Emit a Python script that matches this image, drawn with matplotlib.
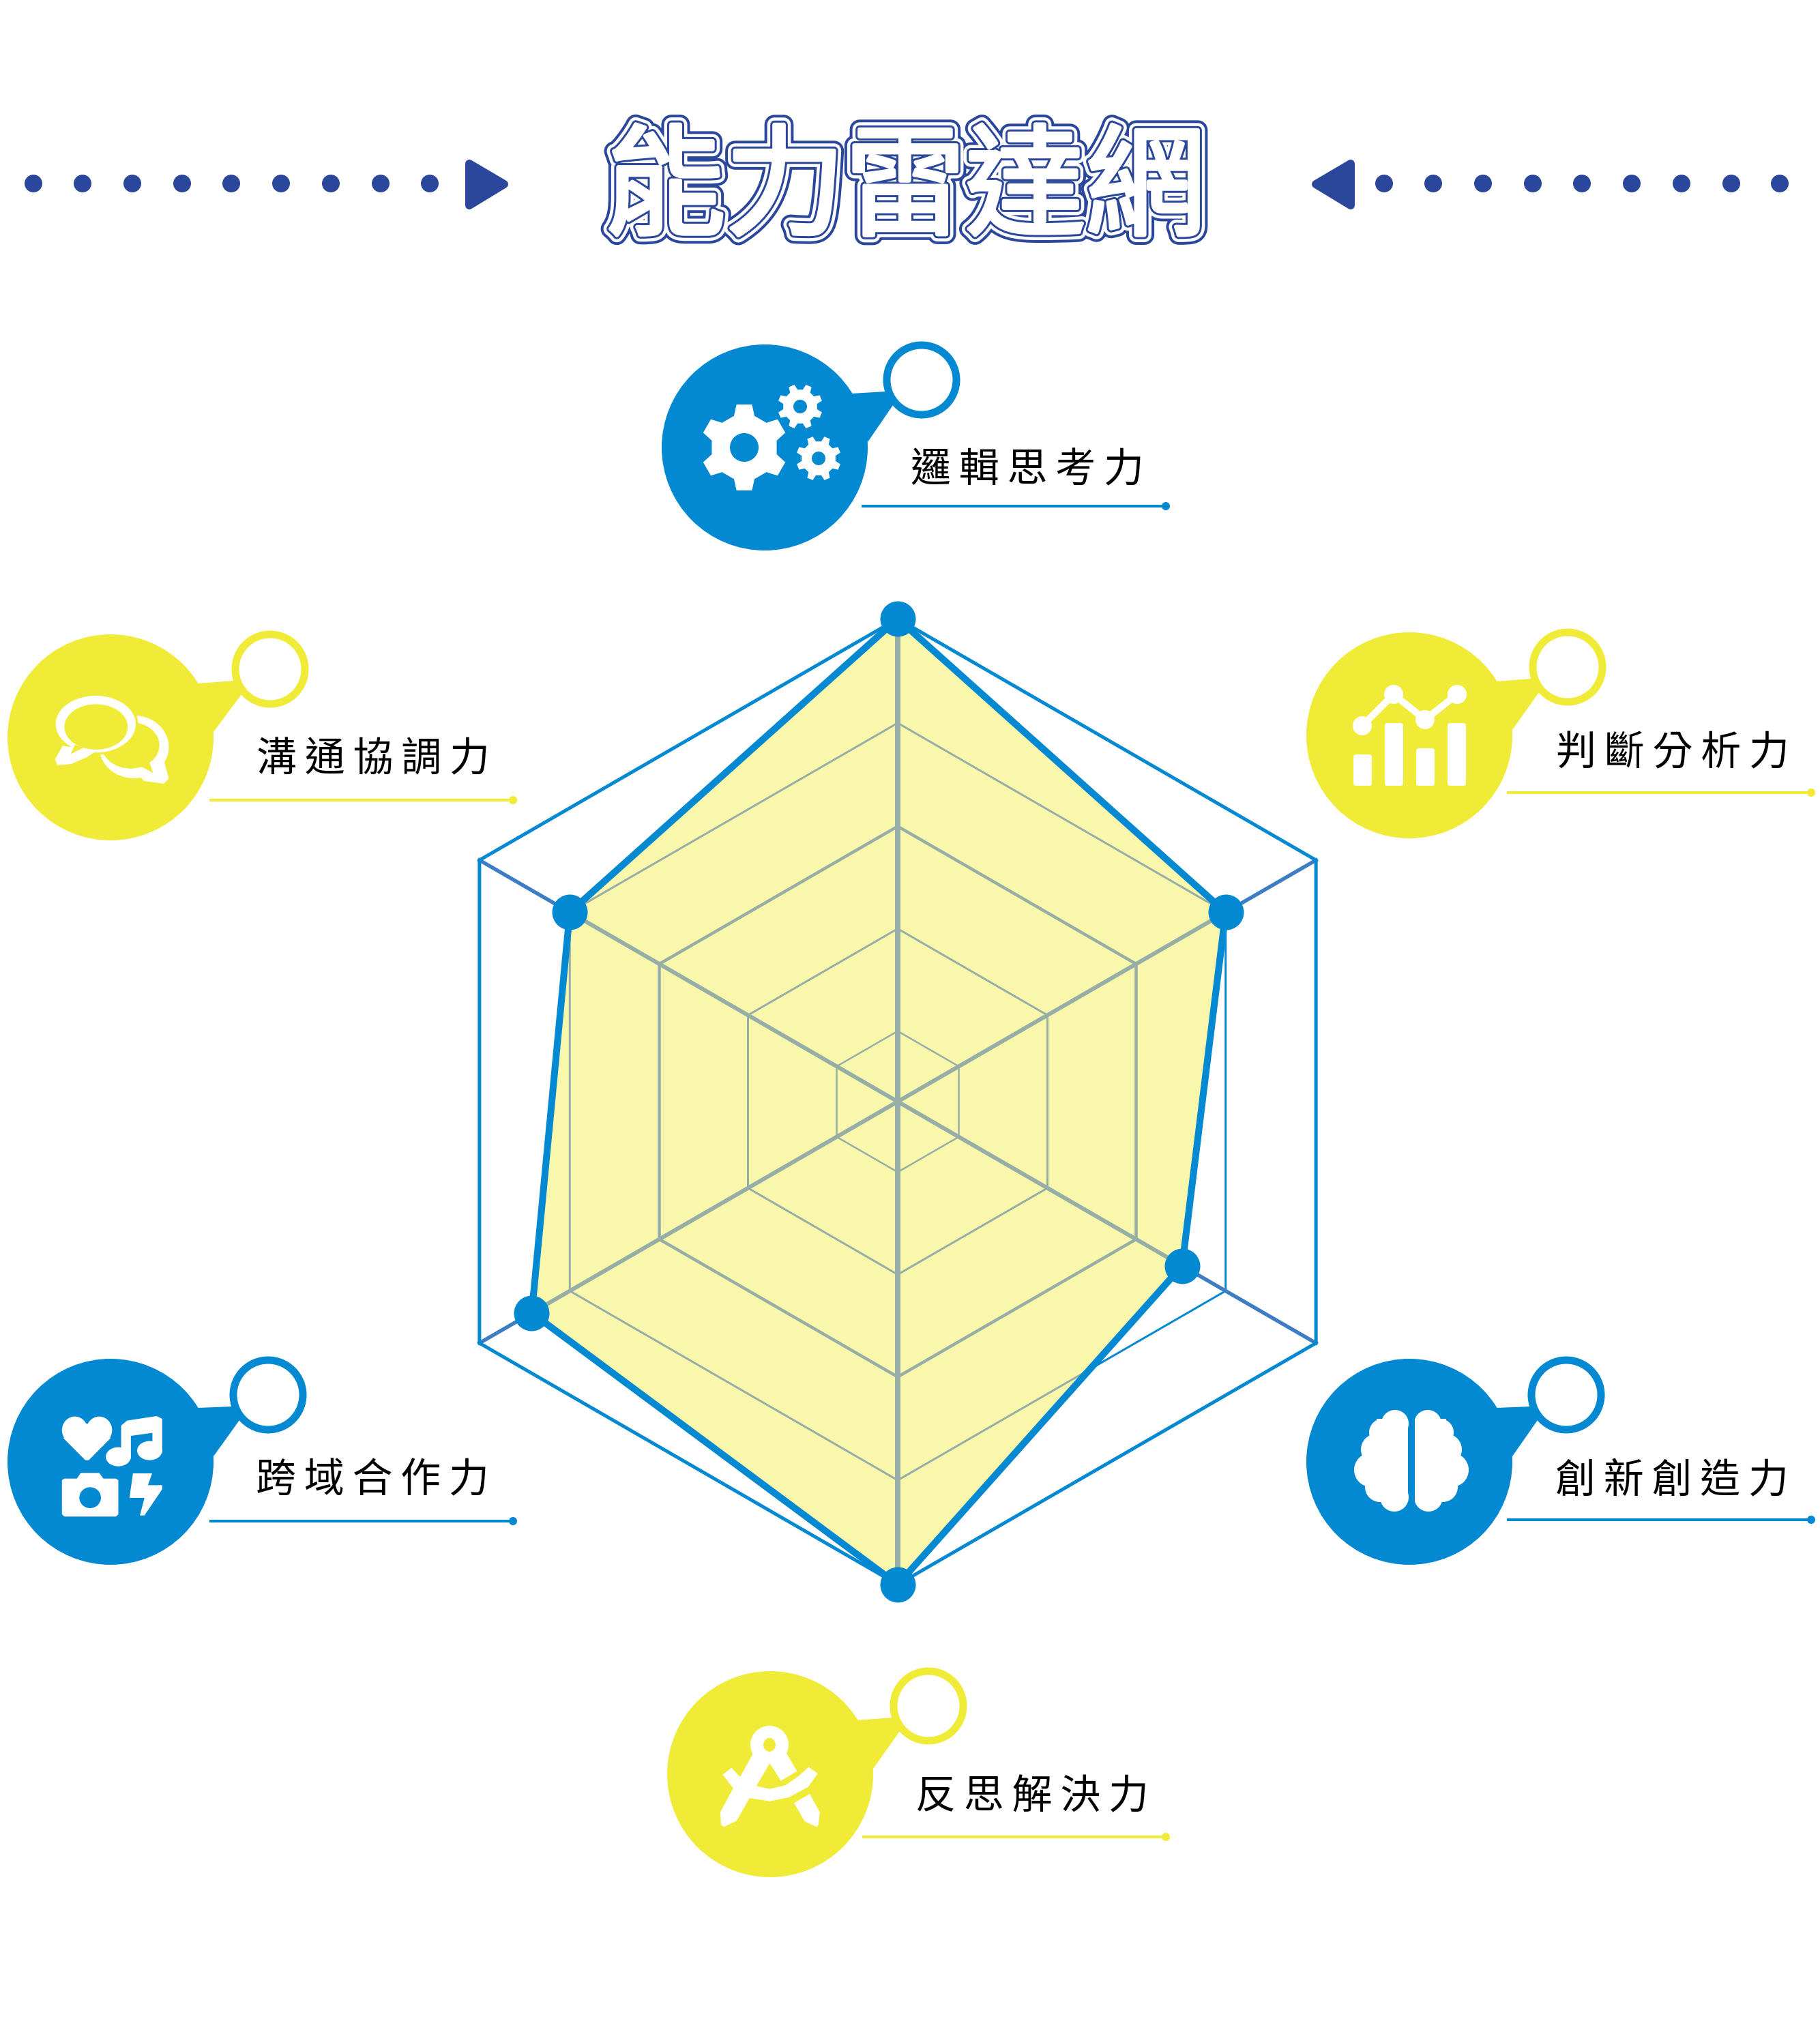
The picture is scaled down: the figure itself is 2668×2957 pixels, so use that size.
import numpy as np
import matplotlib
matplotlib.use('Agg')
import matplotlib.pyplot as plt
import matplotlib.patheffects as pe
from matplotlib.patches import Circle, Ellipse, Polygon, FancyBboxPatch

W, H = 2668, 2957
DPI = 100

BLUE = '#0388D2'
YELLOW = '#F0EB37'
FILL = '#F8F7AC'
NAVY = '#2B479B'
GREY = '#96AEA6'
SPOKE = '#3C7DC4'

plt.rcParams['font.family'] = ['Noto Sans CJK TC', 'DejaVu Sans']

# radar values, clockwise from the top
skills = ['邏輯思考力', '判斷分析力', '創新創造力', '反思解決力', '跨域合作力', '溝通協調力']
values = [100, 78.4, 68, 100, 87.5, 78.4]
rings = [14.6, 35.8, 57, 78.4]
ring_px = [2.5, 3, 4.5, 3]
r_max = 100
title = '能力雷達網'

# big circle centre, ring centre, text centre, underline y, underline x0, x1
circle_xy = [(1121, 656), (2066, 1078), (2066, 2143), (1129, 2601), (162, 2143), (162, 1081)]
ring_xy = [(1351, 557), (2298, 978), (2296, 2045), (1361, 2501), (393, 2045), (396, 981)]
label_xy = [(1506, 690), (2452, 1105), (2451, 2171), (1513, 2635), (546, 2171), (547, 1114)]
line_y = [742, 1162, 2228, 2693, 2230, 1173]
line_x = [(1263, 1711), (2209, 2657), (2209, 2657), (1264, 1711), (307, 754), (307, 754)]
colors = [BLUE, YELLOW, BLUE, YELLOW, BLUE, YELLOW]


def pt(px):
    return px * 72 / DPI


fig = plt.figure(figsize=(W / DPI, H / DPI), dpi=DPI, facecolor='white')
ax = fig.add_axes([0, 0, 1, 1])
ax.set_xlim(0, W)
ax.set_ylim(H, 0)
ax.axis('off')


def zpts(pts, x0, y0, sx, sy):
    return [(x0 + x / sx, y0 + y / sy) for x, y in pts]


def poly(pts, color, z=5):
    ax.add_patch(Polygon(pts, closed=True, fc=color, ec='none', zorder=z))


def ell(x, y, rx, ry, color, z=5):
    ax.add_patch(Ellipse((x, y), 2 * rx, 2 * ry, fc=color, ec='none', zorder=z))


def gear(cx, cy, r, hole, teeth, color, start=90):
    pts = []
    step = 360 / teeth
    for i in range(teeth):
        a = start + i * step
        for da, rr in [(-0.30, 0.76), (-0.17, 1.0), (0.17, 1.0), (0.30, 0.76)]:
            t = np.deg2rad(a + da * step)
            pts.append((cx + r * rr * np.cos(t), cy + r * rr * np.sin(t)))
    poly(pts, 'white', 5)
    ax.add_patch(Circle((cx, cy), hole, fc=color, ec='none', zorder=6))


def icon_gears(cx, cy, color):
    gear(cx - 30, cy, 64, 21, 6, color)
    gear(cx + 52, cy - 60, 33, 10, 8, color, 67.5)
    gear(cx + 79, cy + 16, 33, 10, 8, color, 67.5)


def icon_chart(cx, cy, color):
    # read relative to the circle at (2066, 1078)
    dx, dy = cx - 2066, cy - 1078
    for x0, x1, top in [(1984, 2011, 1106), (2030, 2057, 1060), (2076, 2103, 1097), (2122, 2149, 1060)]:
        ax.add_patch(FancyBboxPatch((x0 + dx + 3, top + dy + 3), x1 - x0 - 6, 1152 - top - 6,
                                    boxstyle='round,pad=3,rounding_size=4', fc='white', ec='none', zorder=5))
    lx = np.array([1997, 2043, 2089, 2136]) + dx
    ly = np.array([1064, 1018, 1055, 1018]) + dy
    ax.plot(lx, ly, color='white', lw=pt(10), zorder=5)
    for x, y in zip(lx, ly):
        ax.add_patch(Circle((x, y), 14, fc='white', ec='none', zorder=5))


def icon_brain(cx, cy, color):
    mid = cx + 3
    lobes = [(-24, -56, 20), (-42, -43, 20), (-51, -18, 23), (-59, 12, 25), (-46, 37, 22), (-25, 52, 21)]
    for side in (1, -1):
        for lx, ly, r in lobes:
            ax.add_patch(Circle((mid + side * lx, cy + ly), r, fc='white', ec='none', zorder=5))
        x0, x1 = sorted([mid + side * 5, mid + side * 51])
        ax.add_patch(FancyBboxPatch((x0, cy - 63), x1 - x0, 120, boxstyle='square,pad=0',
                                    fc='white', ec='none', zorder=5))
    # gap between the halves
    ax.plot([mid, mid], [cy - 85, cy + 80], color=color, lw=pt(9), zorder=6)


def icon_compass(cx, cy, color):
    x0, y0 = cx - 169, cy - 171
    z = lambda p: zpts(p, x0, y0, 1.96, 3)
    ell(cx - 1, cy - 43, 28, 28, 'white')
    poly(z([(283, 420), (245, 525), (225, 575), (188, 680), (190, 735), (198, 745), (235, 718), (272, 618),
            (292, 565), (330, 465), (362, 542), (408, 500), (380, 425), (330, 390)]), 'white')
    poly(z([(195, 515), (220, 485), (245, 525), (292, 565), (330, 578), (375, 562), (410, 525), (442, 482),
            (468, 510), (440, 570), (385, 615), (330, 632), (272, 618), (225, 575)]), 'white')
    poly(z([(445, 600), (400, 640), (430, 720), (465, 745), (470, 735), (474, 680)]), 'white')
    ell(cx - 1, cy - 43, 9, 10, color, 6)


def icon_media(cx, cy, color):
    x0, y0 = cx - 162, cy - 173
    sx, sy = 1.96, 3
    z = lambda p: zpts(p, x0, y0, sx, sy)
    ze = lambda x, y, rx, ry, c, zo=5: ell(x0 + x / sx, y0 + y / sy, rx / sx, ry / sy, c, zo)
    # heart
    ze(215, 380, 37, 60, 'white')
    ze(285, 380, 37, 60, 'white')
    poly(z([(182, 415), (245, 512), (255, 512), (318, 415), (250, 350)]), 'white')
    # note
    poly(z([(348, 360), (365, 338), (450, 318), (466, 330), (466, 480), (438, 480), (438, 392), (376, 405),
            (376, 505), (348, 505)]), 'white')
    ze(340, 497, 36, 42, 'white')
    ze(430, 470, 36, 42, 'white')
    # camera
    poly(z([(178, 600), (185, 593), (333, 593), (340, 600), (340, 750), (333, 760), (185, 760), (178, 750)]), 'white')
    poly(z([(220, 595), (232, 568), (285, 568), (298, 595)]), 'white')
    ze(259, 677, 31, 46, color, 6)
    # bolt
    poly(z([(382, 570), (437, 570), (425, 622), (466, 622), (466, 640), (415, 755), (402, 755), (415, 678),
            (372, 678)]), 'white')


def icon_bubbles(cx, cy, color):
    x0, y0 = cx - 162, cy - 181
    sx, sy = 1.96, 3
    z = lambda p: zpts(p, x0, y0, sx, sy)
    ze = lambda x, y, rx, ry, c, zo=5: ell(x0 + x / sx, y0 + y / sy, rx / sx, ry / sy, c, zo)
    # back bubble
    ze(385, 585, 100, 138, 'white', 5)
    poly(z([(470, 640), (485, 725), (470, 747), (415, 735), (390, 700)]), 'white', 5)
    ze(375, 578, 83, 102, color, 5.2)
    poly(z([(430, 655), (440, 700), (410, 675), (380, 660)]), color, 5.2)
    # front bubble, with a gap under it
    ze(275, 485, 122, 135, color, 5.4)
    ze(275, 485, 115, 125, 'white', 5.5)
    poly(z([(180, 580), (158, 640), (165, 665), (205, 660), (250, 630), (280, 600)]), 'white', 5.5)
    ze(276, 497, 91, 100, color, 5.6)
    poly(z([(215, 575), (203, 617), (240, 588)]), color, 5.6)


icons = [icon_gears, icon_chart, icon_brain, icon_compass, icon_media, icon_bubbles]

# title row: dots and arrows
dots_left = [49, 121, 194, 267, 339, 412, 485, 558, 630]
dots_right = [2029, 2101, 2174, 2247, 2319, 2392, 2465, 2538, 2609]
for x in dots_left + dots_right:
    ax.add_patch(Circle((x, 269), 13, fc=NAVY, ec='none'))
ax.add_patch(Polygon([(688, 240), (688, 301), (739, 270)], closed=True, fc=NAVY, ec=NAVY,
                     lw=pt(12), joinstyle='round'))
ax.add_patch(Polygon([(1980, 240), (1980, 301), (1929, 270)], closed=True, fc=NAVY, ec=NAVY,
                     lw=pt(12), joinstyle='round'))

# title outline is built up from strokes
ax.text(1327, 280, title, fontsize=pt(176), fontweight='medium', color='white', ha='center', va='center', zorder=8,
        path_effects=[pe.withStroke(linewidth=pt(29), foreground=NAVY),
                      pe.withStroke(linewidth=pt(21), foreground='white'),
                      pe.withStroke(linewidth=pt(12), foreground=NAVY),
                      pe.withStroke(linewidth=pt(6), foreground='white')])

# the six skill badges
for i, name in enumerate(skills):
    c = colors[i]
    cx, cy = circle_xy[i]
    rx, ry = ring_xy[i]
    poly([(cx + 127, cy - 79), (rx - 53, ry + 17), (rx - 42, ry + 37), (cx + 151, cy - 8)], c, 3)
    ax.add_patch(Circle((cx, cy), 151, fc=c, ec='none', zorder=3))
    ax.add_patch(Circle((rx, ry), 51, fc='white', ec=c, lw=pt(11), zorder=4))
    icons[i](cx, cy, c)
    ax.text(label_xy[i][0], label_xy[i][1], '\u2009'.join(name), fontsize=pt(59), color='black',
            fontweight='medium', ha='center', va='center', zorder=5)
    ax.plot(line_x[i], [line_y[i], line_y[i]], color=c, lw=pt(4), solid_capstyle='butt', zorder=3)
    ax.add_patch(Circle((line_x[i][1] - 2, line_y[i]), 6, fc=c, ec='none', zorder=3))

# radar, in polar axes centred on (1316, 1615)
margin = 1.1
R = 708
radar = fig.add_axes([(1316 - R * margin) / W, 1 - (1615 + R * margin) / H,
                      2 * R * margin / W, 2 * R * margin / H], projection='polar')
radar.set_theta_zero_location('N')
radar.set_theta_direction(-1)
radar.set_ylim(0, r_max * margin)
radar.set_axis_off()
radar.patch.set_alpha(0)

theta = np.deg2rad(np.arange(0, 360, 60))
theta_c = np.append(theta, theta[0])
vals_c = np.append(values, values[0])

for r, w in zip(rings, ring_px):
    radar.plot(theta_c, [r] * 7, color=BLUE, lw=pt(w), zorder=1)
for t in theta:
    radar.plot([t, t], [0, r_max], color=SPOKE, lw=pt(5.5), zorder=1)
radar.plot(theta_c, [r_max] * 7, color=BLUE, lw=pt(5), solid_joinstyle='miter', zorder=2)

area = radar.fill(theta_c, vals_c, color=FILL, lw=0, zorder=3)[0]

# the same web again, grey where the fill covers it
for r, w in zip(rings, ring_px):
    radar.plot(theta_c, [r] * 7, color=GREY, lw=pt(w), zorder=4)[0].set_clip_path(area)
for t in theta:
    w = 8 if np.isclose(np.sin(t), 0, atol=1e-6) else 6
    radar.plot([t, t], [0, r_max], color=GREY, lw=pt(w), zorder=4)[0].set_clip_path(area)

radar.plot(theta_c, vals_c, color=BLUE, lw=pt(10), zorder=5, clip_on=False)
radar.plot(theta, values, 'o', color=BLUE, ms=pt(52), mew=0, zorder=6, clip_on=False)

fig.savefig('out.png', dpi=DPI, facecolor='white')
